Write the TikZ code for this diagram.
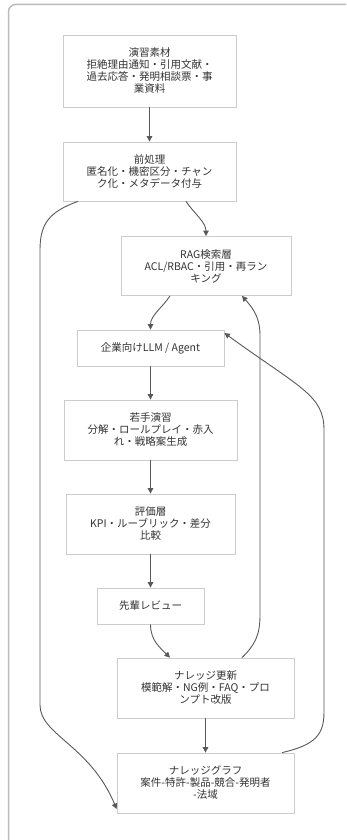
\documentclass[tikz,border=0pt]{standalone}
\usepackage{fontspec}
\setmainfont{Noto Sans CJK JP}
\usetikzlibrary{arrows.meta}
\definecolor{edgec}{HTML}{595959}
\definecolor{boxc}{HTML}{CCCCCC}
\definecolor{framec}{HTML}{BBBBBB}
\definecolor{txt}{HTML}{333333}
\begin{document}
\begin{tikzpicture}[x=1pt,y=-1pt,
  box/.style={draw=boxc, line width=0.8pt, fill=white, align=center,
    font=\fontsize{10.5}{12}\selectfont, text=txt, inner sep=0pt},
  link/.style={draw=edgec, line width=0.9pt, -{Triangle[length=5.5pt,width=5.5pt]}}]
\useasboundingbox (0,0) rectangle (346,840);
\clip (0,0) rectangle (346,840);
\fill[white] (0,0) rectangle (346,840);
\draw[framec, line width=1.5pt, rounded corners=7pt] (8.5,4.5) rectangle (380,880);

\node[box, minimum width=173pt, minimum height=72pt] (n1) at (149.5,71)
  {演習素材\\拒絶理由通知・引用文献・\\過去応答・発明相談票・事\\業資料};
\node[box, minimum width=173pt, minimum height=59pt] (n2) at (149.5,171.5)
  {前処理\\匿名化・機密区分・チャン\\ク化・メタデータ付与};
\node[box, minimum width=170pt, minimum height=59pt] (n3) at (206,266)
  {RAG検索層\\ACL/RBAC・引用・再ラン\\キング};
\node[box, minimum width=147pt, minimum height=36pt] (n4) at (150.5,348)
  {企業向けLLM / Agent};
\node[box, minimum width=173pt, minimum height=60pt] (n5) at (150.5,430)
  {若手演習\\分解・ロールプレイ・赤入\\れ・戦略案生成};
\node[box, minimum width=169pt, minimum height=60pt] (n6) at (150.5,524)
  {評価層\\KPI・ルーブリック・差分\\比較};
\node[box, minimum width=107pt, minimum height=36pt] (n7) at (150.5,606)
  {先輩レビュー};
\node[box, minimum width=177pt, minimum height=60pt] (n8) at (205.5,688)
  {ナレッジ更新\\模範解・NG例・FAQ・プロ\\ンプト改版};
\node[box, minimum width=177pt, minimum height=60pt] (n9) at (205.5,783)
  {ナレッジグラフ\\案件-特許-製品-競合-発明者\\-法域};

\draw[link] (n1) -- (n2);
\draw[link] ([xshift=36.5pt]n2.south) .. controls +(8,12) and +(0,-14) .. (n3.north);
\draw[link] ([xshift=-36pt]n3.south) .. controls +(-8,12) and +(0,-14) .. (n4.north);
\draw[link] (n4) -- (n5);
\draw[link] (n5) -- (n6);
\draw[link] (n6) -- (n7);
\draw[link] (n7.south) .. controls +(0,16) and +(-10,-10) .. ([xshift=-35.5pt]n8.north);
\draw[link] (n8) -- (n9);
\draw[link] ([xshift=-71.5pt]n2.south) .. controls (48,212) and (40,225) .. (40,250)
  -- (40,705) .. controls (40,735) and (90,745) .. ([yshift=-26pt]n9.west);
\draw[link] ([xshift=36.5pt]n8.north) .. controls (255,645) and (260,635) .. (260,615)
  -- (260,335) .. controls (260,315) and (250,305) .. ([xshift=36pt]n3.south);
\draw[link] ([xshift=76.5pt]n9.north) .. controls (315,745) and (324,735) .. (324,712)
  -- (324,430) .. controls (324,395) and (300,388) .. ([yshift=15pt]n4.east);
\end{tikzpicture}
\end{document}
